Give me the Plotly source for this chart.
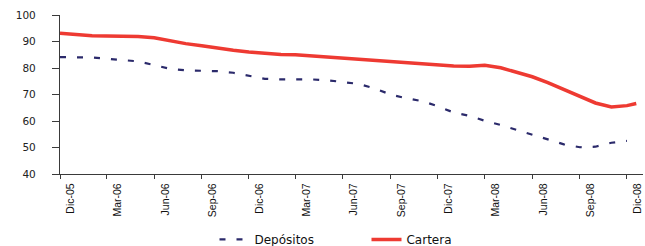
import plotly.graph_objects as go
import pandas as pd

# Monthly dates Dic-05 .. Dic-08
months = pd.date_range("2005-12-01", "2008-12-01", freq="MS").strftime("%Y-%m-%d").tolist()

depositos = [84.1, 84.1, 84.0, 83.5, 83.1, 82.5, 81.1, 79.7, 79.1, 79.0,
             78.8, 78.2, 77.0, 75.9, 75.7, 75.7, 75.7, 75.4, 74.8, 74.0,
             72.3, 70.0, 68.6, 67.5, 65.6, 63.2, 61.9, 60.1, 58.5, 56.7,
             54.8, 52.8, 51.2, 50.1, 50.3, 51.8, 52.5]

cartera_dates = months + ["2008-12-19"]
cartera = [93.1, 92.6, 92.2, 92.1, 92.1, 91.9, 91.4, 90.3, 89.2, 88.4,
           87.5, 86.7, 86.0, 85.5, 85.1, 85.0, 84.6, 84.2, 83.7, 83.1,
           82.9, 82.5, 82.2, 81.7, 81.2, 80.8, 80.7, 81.0, 80.1, 78.3,
           76.7, 74.5, 72.0, 69.3, 66.8, 65.3, 65.8, 66.6]

tick_vals = ["2005-12-01", "2006-03-01", "2006-06-01", "2006-09-01", "2006-12-01",
             "2007-03-01", "2007-06-01", "2007-09-01", "2007-12-01", "2008-03-01",
             "2008-06-01", "2008-09-01", "2008-12-01"]
tick_text = ["Dic-05", "Mar-06", "Jun-06", "Sep-06", "Dic-06", "Mar-07", "Jun-07",
             "Sep-07", "Dic-07", "Mar-08", "Jun-08", "Sep-08", "Dic-08"]

fig = go.Figure()
fig.add_trace(go.Scatter(
    x=months, y=depositos, name="Depósitos", mode="lines",
    line=dict(color="#2B2A6B", width=2.2, dash="6px,11px"),
))
fig.add_trace(go.Scatter(
    x=cartera_dates, y=cartera, name="Cartera", mode="lines",
    line=dict(color="#EE3A32", width=3.5),
))

axis_color = "#3a3a3a"
fig.update_layout(
    width=645, height=246,
    margin=dict(l=60, r=2, t=15, b=72, autoexpand=False),
    paper_bgcolor="white", plot_bgcolor="white",
    font=dict(family="DejaVu Sans", color="#222222"),
    showlegend=True,
    legend=dict(
        orientation="h", xref="paper", yref="paper",
        x=0.265, y=-0.32, xanchor="left", yanchor="top",
        font=dict(family="DejaVu Sans", size=12, color="#111111"),
        entrywidth=107,
        bgcolor="rgba(0,0,0,0)",
    ),
    xaxis=dict(
        type="date", automargin=False,
        range=["2005-12-01", "2009-01-01"],
        tickvals=tick_vals, ticktext=tick_text,
        tickangle=-90,
        tickfont=dict(family="Liberation Sans", size=10.5, color="#111111"),
        ticks="outside", ticklen=4, tickcolor=axis_color, tickwidth=1,
        showline=True, linecolor=axis_color, linewidth=1.3,
        showgrid=False, zeroline=False,
        ticklabelshift=11,
    ),
    yaxis=dict(
        range=[40, 100], dtick=10, tick0=40, automargin=False,
        ticks="outside", ticklen=7, tickcolor=axis_color, tickwidth=1,
        showline=True, linecolor=axis_color, linewidth=1.3,
        showgrid=False, zeroline=False,
        tickfont=dict(family="DejaVu Sans", size=10.5, color="#222222"),
        ticklabelstandoff=14,
    ),
)

fig.write_html(
    "out.html",
    config={"displayModeBar": False},
    post_script="document.body.style.margin='0';document.body.style.overflow='hidden';",
)
